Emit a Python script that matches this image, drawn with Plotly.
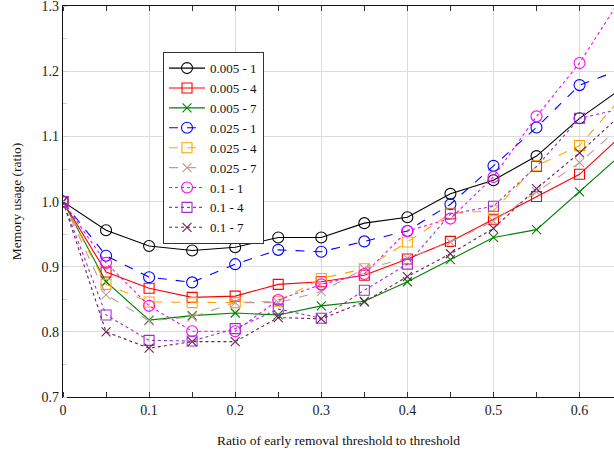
import plotly.graph_objects as go

x_vals = [0, 0.05, 0.1, 0.15, 0.2, 0.25, 0.3, 0.35, 0.4, 0.45, 0.5, 0.55, 0.6, 0.65]
y_ticks = [0.7, 0.8, 0.9, 1.0, 1.1, 1.2, 1.3]
y_tick_labels = ["0.7", "0.8", "0.9", "1.0", "1.1", "1.2", "1.3"]
x_ticks = [0, 0.1, 0.2, 0.3, 0.4, 0.5, 0.6]
x_tick_labels = ["0", "0.1", "0.2", "0.3", "0.4", "0.5", "0.6"]

s005_1 = [1.0, 0.956, 0.932, 0.925, 0.930, 0.945, 0.945, 0.967, 0.976, 1.012, 1.033, 1.070, 1.128, 1.175]
s005_4 = [1.0, 0.892, 0.867, 0.853, 0.855, 0.873, 0.877, 0.887, 0.912, 0.939, 0.973, 1.008, 1.042, 1.103]
s005_7 = [1.0, 0.877, 0.818, 0.825, 0.829, 0.826, 0.840, 0.847, 0.877, 0.911, 0.945, 0.957, 1.015, 1.074]
s025_1 = [1.0, 0.917, 0.884, 0.876, 0.904, 0.926, 0.923, 0.939, 0.955, 0.996, 1.055, 1.114, 1.179, 1.204]
s025_4 = [1.0, 0.873, 0.846, 0.845, 0.845, 0.847, 0.882, 0.897, 0.938, 0.982, 0.986, 1.055, 1.086, 1.162]
s025_7 = [1.0, 0.857, 0.817, 0.823, 0.845, 0.845, 0.862, 0.897, 0.913, 0.938, 0.970, 1.015, 1.060, 1.118]
s1_1 = [1.0, 0.906, 0.840, 0.801, 0.801, 0.849, 0.873, 0.889, 0.955, 0.974, 1.038, 1.131, 1.213, 1.316]
s1_4 = [1.0, 0.826, 0.787, 0.786, 0.805, 0.835, 0.821, 0.864, 0.904, 0.981, 0.993, 1.054, 1.128, 1.143]
s1_7 = [1.0, 0.800, 0.775, 0.785, 0.785, 0.822, 0.820, 0.846, 0.885, 0.920, 0.959, 1.020, 1.075, 1.136]

series_names = ["0.005 - 1", "0.005 - 4", "0.005 - 7",
                "0.025 - 1", "0.025 - 4", "0.025 - 7",
                "0.1 - 1", "0.1 - 4", "0.1 - 7"]
series_values = [s005_1, s005_4, s005_7, s025_1, s025_4, s025_7, s1_1, s1_4, s1_7]
colors = ["#000000", "#ff0000", "#008000",
          "#0000ff", "#ffa500", "#c09a96",
          "#ff00ff", "#9b30d0", "#6e1f50"]
symbols = ["circle-open", "square-open", "x-thin-open"] * 3
dashes = ["solid"] * 3 + ["dash"] * 3 + ["dot"] * 3
sizes = [11, 10, 9] * 3

FONT = "Liberation Serif"

fig = go.Figure()
for name, vals, c, sym, d, sz in zip(series_names, series_values, colors, symbols, dashes, sizes):
    fig.add_trace(go.Scatter(
        x=x_vals, y=vals, name=name, mode="lines+markers",
        line=dict(color=c, width=1.1, dash=d),
        marker=dict(symbol=sym, size=sz, color=c, line=dict(color=c, width=1.1)),
    ))

fig.update_layout(
    width=614, height=457,
    margin=dict(l=63, r=0, t=6, b=60),
    paper_bgcolor="white", plot_bgcolor="white",
    font=dict(family=FONT, size=13, color="#222"),
    showlegend=True,
    legend=dict(
        x=0.1815, y=0.882, xanchor="left", yanchor="top",
        bgcolor="white", bordercolor="#333", borderwidth=1,
        font=dict(family=FONT, size=13, color="#111"),
        tracegroupgap=0, itemwidth=36,
    ),
)

fig.update_xaxes(
    range=[0, 0.64], tickvals=x_ticks, ticktext=x_tick_labels,
    showgrid=True, gridcolor="#dcdcdc", gridwidth=1.3,
    showline=True, linecolor="#111", linewidth=1.3, mirror="allticks",
    ticks="", zeroline=False, ticklabeloverflow="allow",
    minor=dict(dtick=0.05, tick0=0, ticks="inside", ticklen=5, tickcolor="#333", showgrid=False),
    title=dict(text="Ratio of early removal threshold to threshold", font=dict(family=FONT, size=13.5, color="#111"), standoff=18),
    tickfont=dict(family=FONT, size=14, color="#222"),
)
fig.update_yaxes(
    range=[0.7, 1.3005], tickvals=y_ticks, ticktext=y_tick_labels,
    showgrid=True, gridcolor="#dcdcdc", gridwidth=1.3,
    showline=True, linecolor="#111", linewidth=1.3, mirror=False,
    ticks="", zeroline=False, ticklabeloverflow="allow",
    minor=dict(dtick=0.05, tick0=0.7, ticks="inside", ticklen=4, tickcolor="#d0d0d0", showgrid=False),
    title=dict(text="Memory usage (ratio)", font=dict(family=FONT, size=13.5, color="#111"), standoff=16),
    tickfont=dict(family=FONT, size=14, color="#222"),
)

fig.write_html("out.html", config={"displayModeBar": False},
               post_script="document.body.style.margin='0';")
